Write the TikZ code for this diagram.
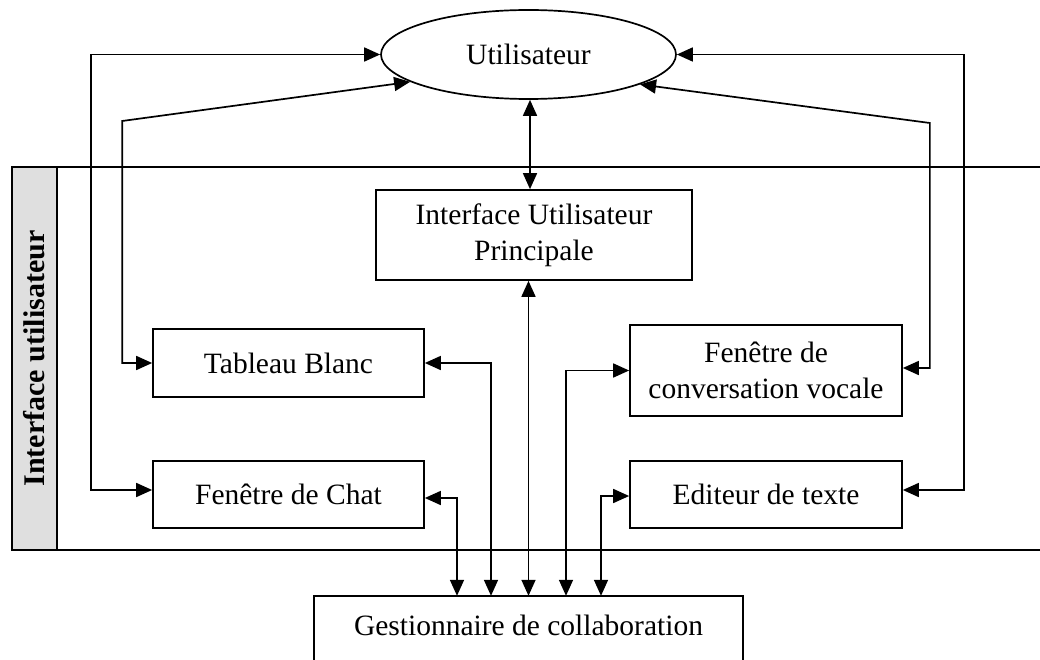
\documentclass[tikz,border=0pt]{standalone}
\usepackage{fontspec}
\setmainfont{Liberation Serif}
\usetikzlibrary{arrows.meta,shapes.geometric}
\begin{document}
\begin{tikzpicture}[x=1pt,y=-1pt,
  every node/.style={font=\fontsize{29.5}{36}\selectfont, inner sep=0pt, align=center},
  box/.style={draw, line width=1.7pt, rectangle},
  band/.style={line width=1.7pt},
  link/.style={line width=1.7pt,
    {Triangle[length=16pt,width=14pt]}-{Triangle[length=16pt,width=14pt]}}]
\useasboundingbox (0,0) rectangle (1040,660);

% band of the user interface layer
\draw[band] (12,167) -- (1040,167);
\draw[band] (12,550) -- (1040,550);
\node[draw, fill=gray!25, line width=1.7pt, rotate=90,
      minimum width=383pt, minimum height=45pt,
      font=\fontsize{30}{36}\selectfont\bfseries] (bar) at (34.5,358.5) {Interface utilisateur};

% components
\node[draw, ellipse, line width=1.7pt, minimum width=295pt, minimum height=89pt] (user) at (528.5,54.5) {Utilisateur};
\node[box, minimum width=316pt, minimum height=90pt] (iup) at (534,235) {Interface Utilisateur\\Principale};
\node[box, minimum width=271pt, minimum height=68pt] (tb) at (288.5,363) {Tableau Blanc};
\node[box, minimum width=271pt, minimum height=67pt] (chat) at (288.5,494.5) {Fenêtre de Chat};
\node[box, minimum width=272pt, minimum height=91pt] (voc) at (766,370.5) {Fenêtre de\\conversation vocale};
\node[box, minimum width=272pt, minimum height=67pt] (edit) at (766,494.5) {Editeur de texte};
\node[minimum width=429pt, minimum height=58pt] (gest) at (528.5,625) {Gestionnaire de collaboration};
\draw[line width=1.7pt] ([yshift=-80pt]gest.north west) -- (gest.north west)
  -- (gest.north east) -- ([yshift=-80pt]gest.north east);

% links to the user
\draw[link] ([xshift=1.5pt]user.south) -- ([xshift=1.5pt]user.south |- iup.north);
\draw[link] ([yshift=4.5pt]chat.west) -- ++(-61,0) |- (user.west);
\draw[link] (tb.west) -- ++(-30,0) -- ++(0,-242) -- (user.193);
\draw[link] ([yshift=2.5pt]voc.east) -- ++(27,0) -- ++(0,-245) -- (user.345);
\draw[link] ([yshift=4.5pt]edit.east) -- ++(61,0) |- (user.east);

% links to the collaboration manager
\draw[link] (iup.south -| gest.north) -- (gest.north);
\draw[link] ([yshift=-3.5pt]chat.east) -| ([xshift=-71.5pt]gest.north);
\draw[link] (tb.east) -| ([xshift=-37.5pt]gest.north);
\draw[link] (voc.west) -| ([xshift=37.5pt]gest.north);
\draw[link] ([yshift=-1.5pt]edit.west) -| ([xshift=72.5pt]gest.north);
\end{tikzpicture}
\end{document}
